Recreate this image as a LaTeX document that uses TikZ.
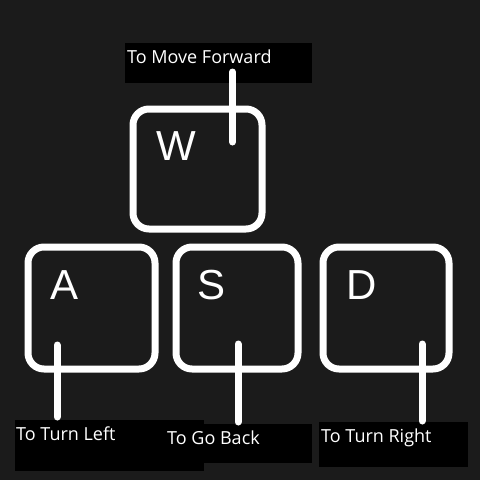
\documentclass[tikz,border=0pt]{standalone}
\usepackage{fontspec}
\setmainfont{Open Sans}
\newfontfamily\keyfont{Liberation Sans}
\definecolor{bg}{HTML}{1B1B1B}
\begin{document}
\begin{tikzpicture}[x=1pt,y=-1pt,
  keybox/.style={draw=white, line width=7pt, rounded corners=16pt, inner sep=0pt},
  keyletter/.style={text=white, font=\keyfont\fontsize{42}{42}\selectfont, inner sep=0pt},
  labelbox/.style={fill=black, draw=none, inner sep=0pt},
  labeltext/.style={text=white, font=\fontsize{18}{20}\selectfont, inner sep=0pt, anchor=base west},
  conn/.style={draw=white, line width=7pt, line cap=round}]
\useasboundingbox (0,0) rectangle (480,480);
\fill[bg] (0,0) rectangle (480,480);

% keys
\node[keybox, minimum width=129pt, minimum height=120pt] (kw) at (197.5,169) {};
\node[keybox, minimum width=127pt, minimum height=122pt] (ka) at (91.5,308) {};
\node[keybox, minimum width=122pt, minimum height=122pt] (ks) at (237,308) {};
\node[keybox, minimum width=126pt, minimum height=122pt] (kd) at (386,308) {};

\node[keyletter] (lw) at (176,146) {W};
\node[keyletter] (la) at (65,285) {A};
\node[keyletter] (ls) at (212,285) {S};
\node[keyletter] (ld) at (362,285) {D};

% label boxes
\node[labelbox, minimum width=187pt, minimum height=40pt] (bf) at (218.5,63) {};
\node[labelbox, minimum width=189pt, minimum height=51pt] (bl) at (109.5,445.5) {};
\node[labelbox, minimum width=149pt, minimum height=39pt] (bb) at (237.5,443.5) {};
\node[labelbox, minimum width=149pt, minimum height=45pt] (br) at (393.5,444.5) {};

% connectors
\coordinate (cw1) at (232.5,142);
\coordinate (cw2) at (232.5,72);
\coordinate (ca1) at (57,345);
\coordinate (ca2) at (57,417);
\coordinate (cs1) at (238,344);
\coordinate (cs2) at (238,422);
\coordinate (cd1) at (422,344);
\coordinate (cd2) at (422,421);
\draw[conn] (cw1) -- (cw2);
\draw[conn] (ca1) -- (ca2);
\draw[conn] (cs1) -- (cs2);
\draw[conn] (cd1) -- (cd2);

% label texts
\node[labeltext] (tf) at (127,63) {To Move Forward};
\node[labeltext] (tl) at (16,440) {To Turn Left};
\node[labeltext] (tb) at (167,444) {To Go Back};
\node[labeltext] (tr) at (321,442) {To Turn Right};
\end{tikzpicture}
\end{document}
